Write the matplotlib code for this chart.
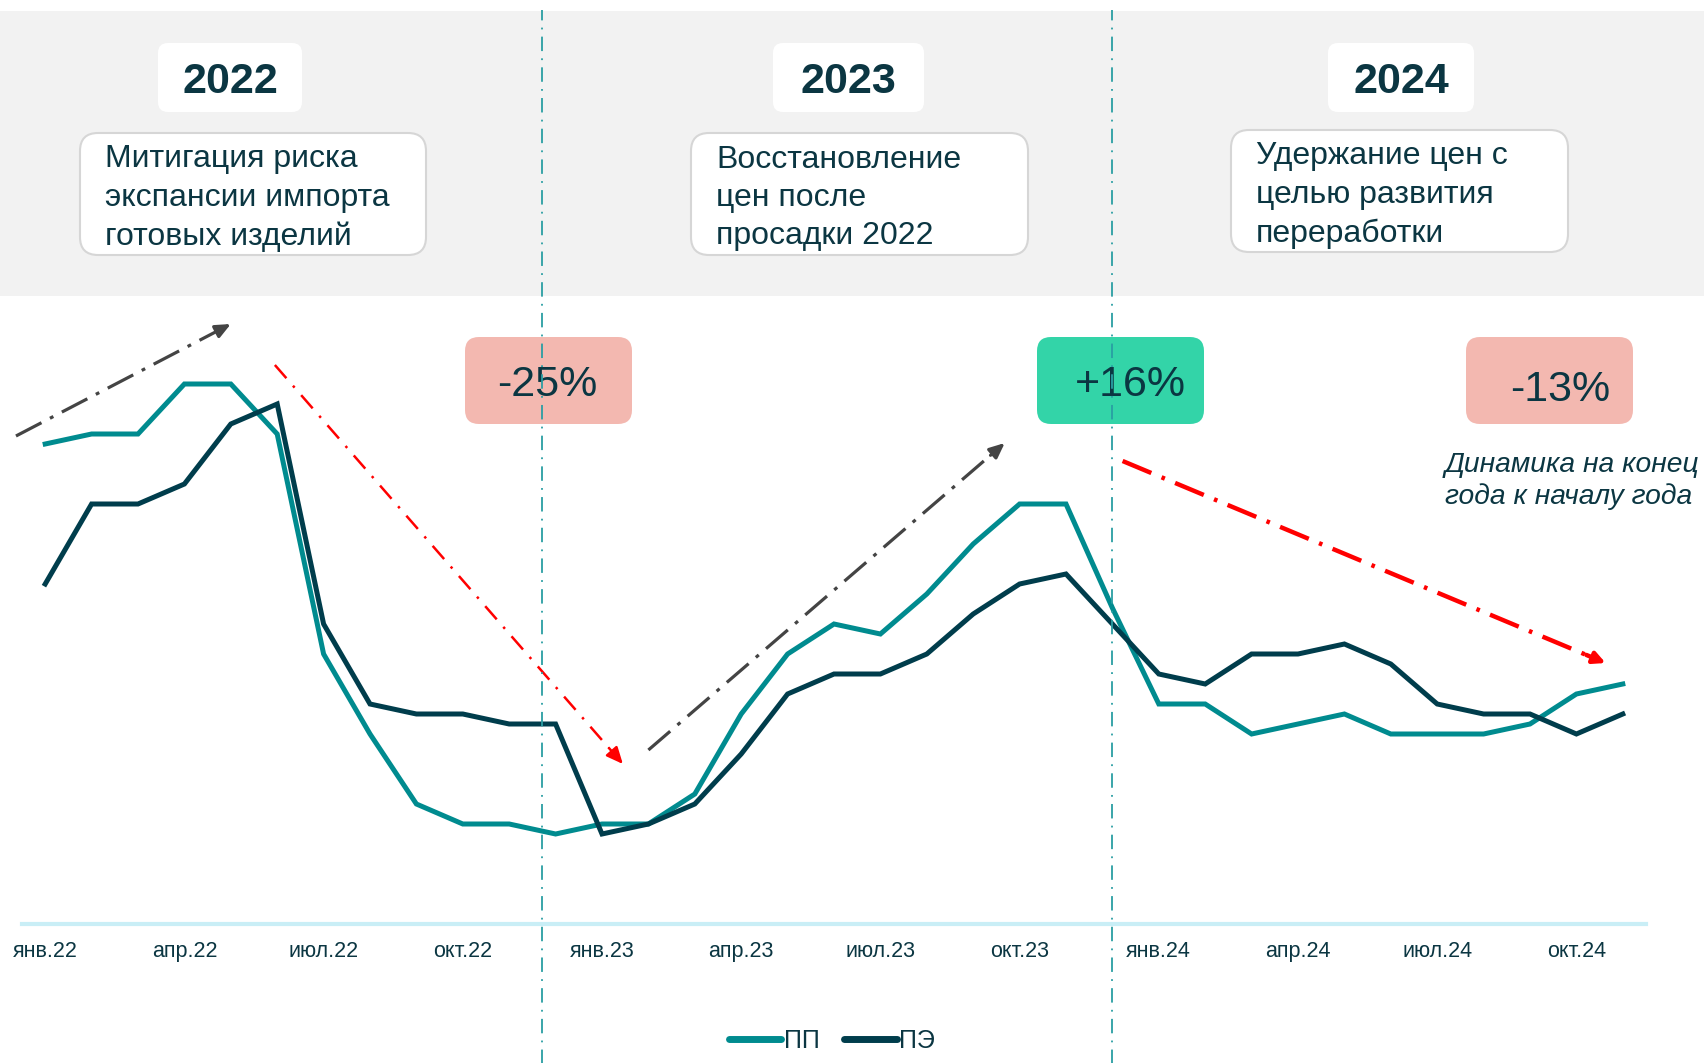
import numpy as np
import matplotlib.pyplot as plt
from matplotlib.patches import FancyBboxPatch, Rectangle

plt.rcParams['font.family'] = ['Liberation Sans', 'DejaVu Sans']

# данные (условные единицы, индекс цены)
months = ['янв.22', 'апр.22', 'июл.22', 'окт.22', 'янв.23', 'апр.23',
          'июл.23', 'окт.23', 'янв.24', 'апр.24', 'июл.24', 'окт.24']
pp = [120, 122.5, 122.5, 135, 135, 122.5, 67.5, 47.5, 30, 25, 25, 22.5,
      25, 25, 32.5, 52.5, 67.5, 75, 72.5, 82.5, 95, 105, 105, 79,
      55, 55, 47.5, 50, 52.5, 47.5, 47.5, 47.5, 50, 57.5, 60]
pe = [85, 105, 105, 110, 125, 130, 75, 55, 52.5, 52.5, 50, 50,
      22.5, 25, 30, 42.5, 57.5, 62.5, 62.5, 67.5, 77.5, 85, 87.5, 75,
      62.5, 60, 67.5, 67.5, 70, 65, 55, 52.5, 52.5, 47.5, 52.5]
year_breaks = [10.7, 23.0]

years = ['2022', '2023', '2024']
notes = ['Митигация риска\nэкспансии импорта\nготовых изделий',
         'Восстановление\nцен после\nпросадки 2022',
         'Удержание цен с\nцелью развития\nпереработки']
changes = ['-25%', '+16%', '-13%']
change_colors = ['#f3b8b0', '#33d4a8', '#f3b8b0']

TEAL = '#008b8f'
DARK = '#003d4c'
TXT = '#0b3642'

W, H = 1704, 1063
fig = plt.figure(figsize=(W / 100, H / 100), dpi=100)

# фон с подписями (пиксельные координаты)
bg = fig.add_axes([0, 0, 1, 1], zorder=0)
bg.set_xlim(0, W)
bg.set_ylim(H, 0)
bg.axis('off')
bg.add_patch(Rectangle((0, 11), W, 285, color='#f2f2f2', lw=0))

year_box_x = [158, 773, 1328]
year_box_w = [144, 151, 146]
note_box_x = [80, 691, 1231]
note_box_y = [133, 133, 130]
note_box_w = [346, 337, 337]
for i in range(3):
    bg.add_patch(FancyBboxPatch((year_box_x[i], 43), year_box_w[i], 69,
                                boxstyle='round,pad=0,rounding_size=10',
                                fc='white', ec='none'))
    bg.text(year_box_x[i] + year_box_w[i] / 2, 82, years[i], ha='center', va='center',
            fontsize=31, fontweight='bold', color=TXT)
    bg.add_patch(FancyBboxPatch((note_box_x[i], note_box_y[i]), note_box_w[i], 122,
                                boxstyle='round,pad=0,rounding_size=18',
                                fc='white', ec='#d6d6d6', lw=1.5))
    bg.text(note_box_x[i] + 25, note_box_y[i] + 65, notes[i], ha='left', va='center',
            fontsize=23, color=TXT, linespacing=1.36)

chg_x = [465, 1037, 1466]
chg_txt_dx = [82, 93, 94]
chg_txt_y = [385, 385, 390]
for i in range(3):
    bg.add_patch(FancyBboxPatch((chg_x[i], 337), 167, 87,
                                boxstyle='round,pad=0,rounding_size=14',
                                fc=change_colors[i], ec='none'))
    bg.text(chg_x[i] + chg_txt_dx[i], chg_txt_y[i], changes[i], ha='center', va='center',
            fontsize=31, color=TXT)

bg.text(1445, 481, 'Динамика на конец\nгода к началу года', ha='left', va='center',
        fontsize=20.3, style='italic', color=TXT, linespacing=1.28)

# основной график
ax = fig.add_axes([22 / W, 139 / H, 1624 / W, 624 / H], zorder=1)
ax.patch.set_visible(False)
x = np.arange(len(pp))
ax.plot(x, pp, color=TEAL, lw=3.6, label='ПП', solid_joinstyle='miter')
ax.plot(x, pe, color=DARK, lw=3.6, label='ПЭ', solid_joinstyle='miter')
ax.set_xlim(-0.5, 34.5)
ax.set_ylim(0, 156)

for xb in year_breaks:
    ax.axvline(xb, ymin=-0.225, ymax=1.465, clip_on=False, color='#2a9ea3',
               lw=1.3, linestyle=(0, (8, 4, 1, 4)), zorder=5)


def trend(x0, y0, x1, y1, color, lw, dashes, head):
    t = 0.96
    xm, ym = x0 + (x1 - x0) * t, y0 + (y1 - y0) * t
    ax.plot([x0, xm], [y0, ym], color=color, lw=lw, linestyle=(0, dashes),
            clip_on=False, zorder=4)
    ax.annotate('', xy=(x1, y1), xytext=(xm, ym), annotation_clip=False,
                arrowprops=dict(arrowstyle='-|>,head_length=%s,head_width=%s' % head,
                                color=color, lw=lw, shrinkA=0, shrinkB=0))


trend(-0.63, 122, 4.0, 150, '#444444', 2.3, (9, 3, 1.2, 3), (0.9, 0.4))
trend(4.95, 139.75, 12.45, 40, '#ff0000', 1.8, (7, 4, 1, 4), (1.0, 0.45))
trend(13.0, 43.5, 20.68, 120.25, '#444444', 2.3, (9, 3, 1.2, 3), (0.9, 0.4))
trend(23.22, 115.75, 33.63, 65.25, '#ff0000', 3.2, (7, 2.5, 0.8, 2.5), (0.7, 0.35))

ax.set_xticks(np.arange(0, 34, 3))
ax.set_xticklabels(months, fontsize=15.5, color=TXT)
ax.tick_params(axis='x', length=0, pad=12)
ax.set_yticks([])
for s in ['top', 'right', 'left']:
    ax.spines[s].set_visible(False)
ax.spines['bottom'].set_color('#c9eef6')
ax.spines['bottom'].set_linewidth(3)

leg = fig.legend(loc='center', bbox_to_anchor=(832 / W, 1 - 1041 / H), ncol=2,
                 frameon=False, fontsize=18, handlelength=2.1, handletextpad=0.1,
                 columnspacing=1.0)
for t in leg.get_texts():
    t.set_color(TXT)
for l in leg.get_lines():
    l.set_linewidth(5)
    l.set_solid_capstyle('round')

fig.savefig('out.png', dpi=100)
